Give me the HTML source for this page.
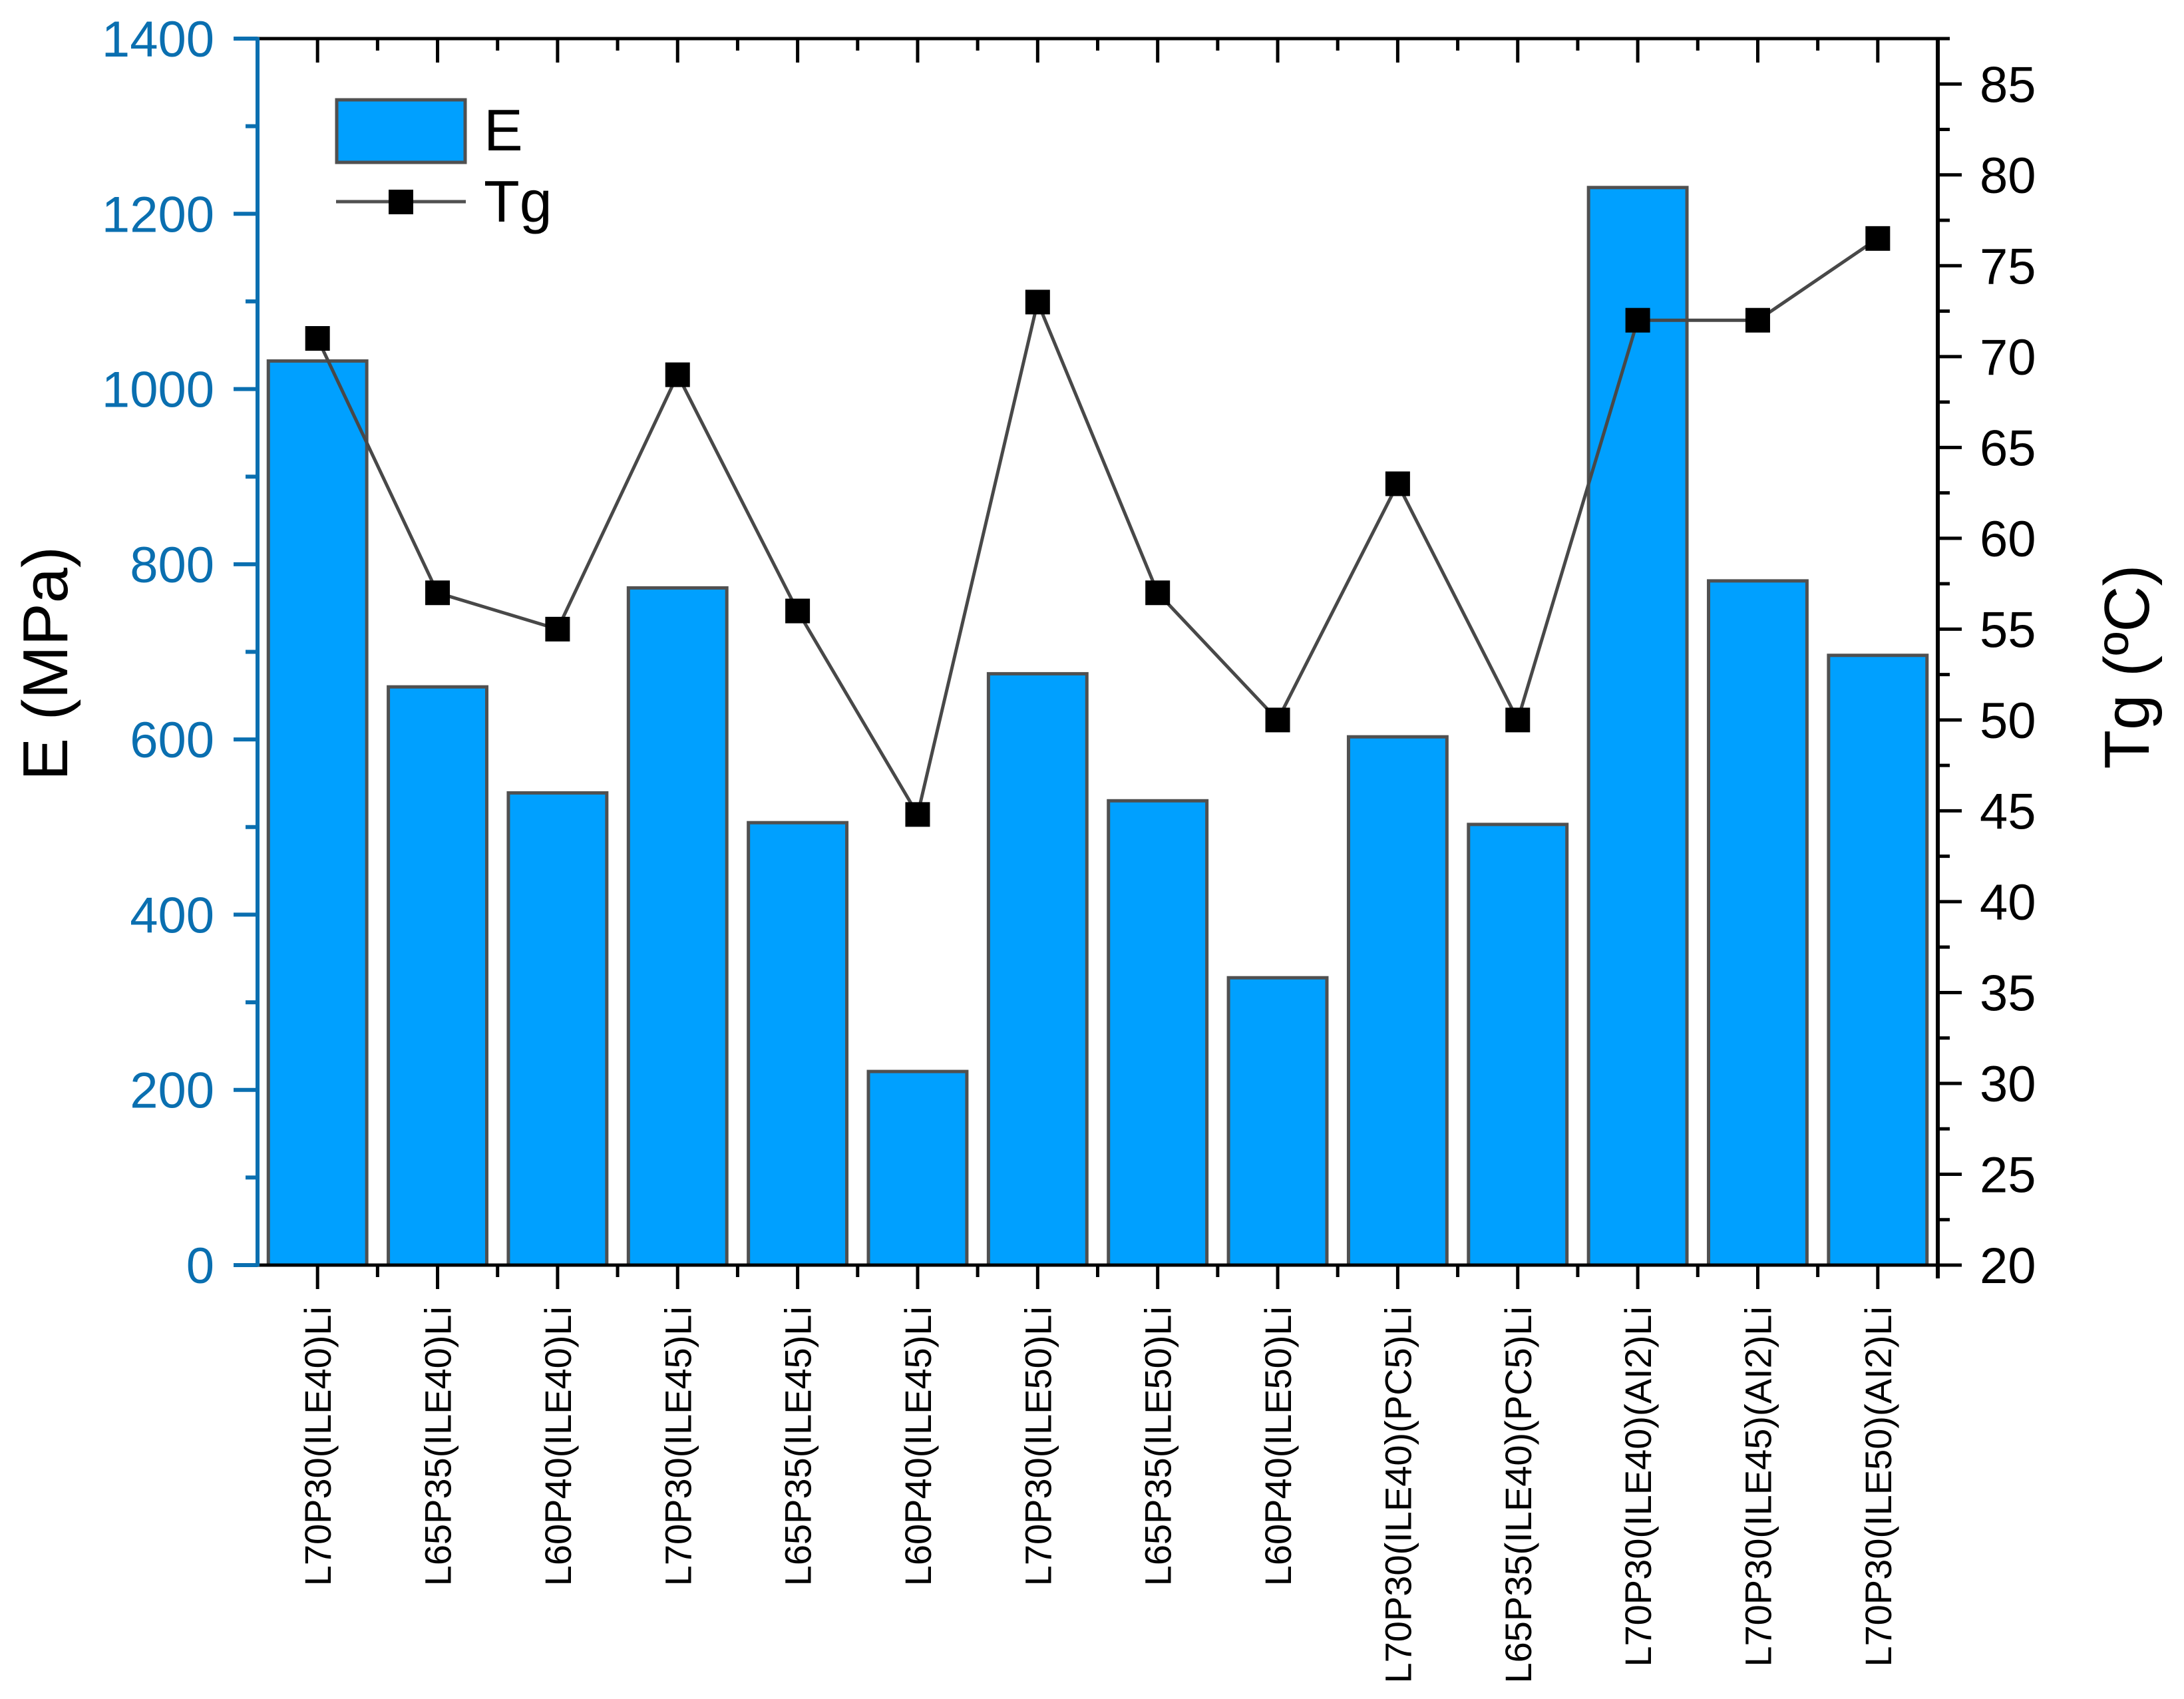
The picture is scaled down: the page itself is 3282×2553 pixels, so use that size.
<!DOCTYPE html>
<html><head><meta charset="utf-8"><style>
html,body{margin:0;padding:0;background:#fff;}
svg{display:block;font-family:"Liberation Sans",Arial,sans-serif;}
</style></head>
<body>
<svg id="chart" width="3282" height="2553" viewBox="0 0 3282 2553" xmlns="http://www.w3.org/2000/svg">
<g id="bars"></g>
<g id="line"></g>
<g id="axes"></g>
<g>
<rect x="506" y="150" width="193" height="94" fill="#00a0ff" stroke="#505050" stroke-width="5"/>
<text x="727" y="226" font-size="88" fill="#000">E</text>
<line x1="505" y1="303" x2="700" y2="303" stroke="#505050" stroke-width="5"/>
<rect x="584" y="285" width="37" height="37" fill="#000"/>
<text x="727" y="333" font-size="88" fill="#000">Tg</text>
</g>
<text transform="translate(101,997) rotate(-90)" text-anchor="middle" font-size="96" fill="#000">E (MPa)</text>
<text transform="translate(3229,1002) rotate(-90)" text-anchor="middle" font-size="96" fill="#000">Tg (ºC)</text>
</svg>
<script>
const categories = ["L70P30(ILE40)Li","L65P35(ILE40)Li","L60P40(ILE40)Li","L70P30(ILE45)Li","L65P35(ILE45)Li","L60P40(ILE45)Li","L70P30(ILE50)Li","L65P35(ILE50)Li","L60P40(ILE50)Li","L70P30(ILE40)(PC5)Li","L65P35(ILE40)(PC5)Li","L70P30(ILE40)(AI2)Li","L70P30(ILE45)(AI2)Li","L70P30(ILE50)(AI2)Li"];
const eValues = [1032, 660, 539, 773, 505, 221, 675, 530, 328, 603, 503, 1230, 781, 696];
const tgValues = [71, 57, 55, 69, 56, 44.8, 73, 57, 50, 63, 50, 72, 72, 76.5];
const leftTicks = [0, 200, 400, 600, 800, 1000, 1200, 1400];
const rightTicks = [20, 25, 30, 35, 40, 45, 50, 55, 60, 65, 70, 75, 80, 85];

const NS = "http://www.w3.org/2000/svg";
const X0 = 387, X1 = 2912, Y0 = 1901, Y1 = 58;
const LMIN = 0, LMAX = 1400, RMIN = 20, RMAX = 87.5;
const slot = (X1 - X0) / categories.length;
const xc = i => X0 + (i + 0.5) * slot;
const yL = v => Y0 - (v - LMIN) / (LMAX - LMIN) * (Y0 - Y1);
const yR = v => Y0 - (v - RMIN) / (RMAX - RMIN) * (Y0 - Y1);
const BLUE = "#0a6fb0";

function mk(tag, attrs, parent) {
  const el = document.createElementNS(NS, tag);
  for (const k in attrs) el.setAttribute(k, attrs[k]);
  parent.appendChild(el);
  return el;
}
const barsG = document.getElementById("bars");
const lineG = document.getElementById("line");
const axesG = document.getElementById("axes");

const bw = slot * 0.82;
eValues.forEach((v, i) => {
  const r = mk("rect", {x: xc(i) - bw / 2, y: yL(v), width: bw, height: Y0 - yL(v), fill: "#00a0ff", stroke: "#505050", "stroke-width": 5}, barsG);
  
  
});

const pts = tgValues.map((v, i) => xc(i) + "," + yR(v)).join(" ");
const pl = mk("polyline", {points: pts, fill: "none", stroke: "#484848", "stroke-width": 5}, lineG);


tgValues.forEach((v, i) => {
  const m = mk("rect", {x: xc(i) - 18.5, y: yR(v) - 18.5, width: 37, height: 37, fill: "#000"}, lineG);
  
  
});

const topAxis = mk("line", {x1: X0, y1: Y1, x2: X1 + 2, y2: Y1, stroke: "#000", "stroke-width": 5}, axesG);


const botAxis = mk("line", {x1: X0, y1: Y0, x2: X1 + 36, y2: Y0, stroke: "#000", "stroke-width": 5}, axesG);


categories.forEach((c, i) => {
  const t1 = mk("line", {x1: xc(i), y1: Y0, x2: xc(i), y2: Y0 + 36, stroke: "#000", "stroke-width": 5}, axesG);
  
  
  const t2 = mk("line", {x1: xc(i), y1: Y1, x2: xc(i), y2: Y1 + 36, stroke: "#000", "stroke-width": 5}, axesG);
  
  
  const bx = X0 + (i + 1) * slot;
  if (i < categories.length - 1) {
    const t3 = mk("line", {x1: bx, y1: Y1, x2: bx, y2: Y1 + 18, stroke: "#000", "stroke-width": 5}, axesG);
    
    
  }
  const t4 = mk("line", {x1: bx, y1: Y0, x2: bx, y2: Y0 + 18, stroke: "#000", "stroke-width": 5}, axesG);
  
  
  const lb = mk("text", {transform: "translate(" + (xc(i) + 20) + ",1963) rotate(-90)", "text-anchor": "end", "font-size": 56, fill: "#000"}, axesG);
  lb.textContent = c;
  
  
});

const leftAxis = mk("line", {x1: X0, y1: Y0 + 2, x2: X0, y2: Y1 - 2, stroke: BLUE, "stroke-width": 6}, axesG);


leftTicks.forEach((v, i) => {
  const t = mk("line", {x1: X0 - 36, y1: yL(v), x2: X0, y2: yL(v), stroke: BLUE, "stroke-width": 6}, axesG);
  
  
  if (i < leftTicks.length - 1) {
    const m = mk("line", {x1: X0 - 18, y1: yL(v + 100), x2: X0, y2: yL(v + 100), stroke: BLUE, "stroke-width": 6}, axesG);
    
    
  }
  const l = mk("text", {x: 322, y: yL(v) + 27, "text-anchor": "end", "font-size": 76, fill: BLUE}, axesG);
  l.textContent = v;
  
  
});

const rightAxis = mk("line", {x1: X1, y1: Y0 + 20, x2: X1, y2: Y1 - 2, stroke: "#000", "stroke-width": 6}, axesG);


rightTicks.forEach(v => {
  const t = mk("line", {x1: X1, y1: yR(v), x2: X1 + 36, y2: yR(v), stroke: "#000", "stroke-width": 5}, axesG);
  
  
  const m = mk("line", {x1: X1, y1: yR(v + 2.5), x2: X1 + 18, y2: yR(v + 2.5), stroke: "#000", "stroke-width": 5}, axesG);
  
  
  const l = mk("text", {x: 2975, y: yR(v) + 27, "text-anchor": "start", "font-size": 76, fill: "#000"}, axesG);
  l.textContent = v;
  
  
});
</script>
</body></html>
